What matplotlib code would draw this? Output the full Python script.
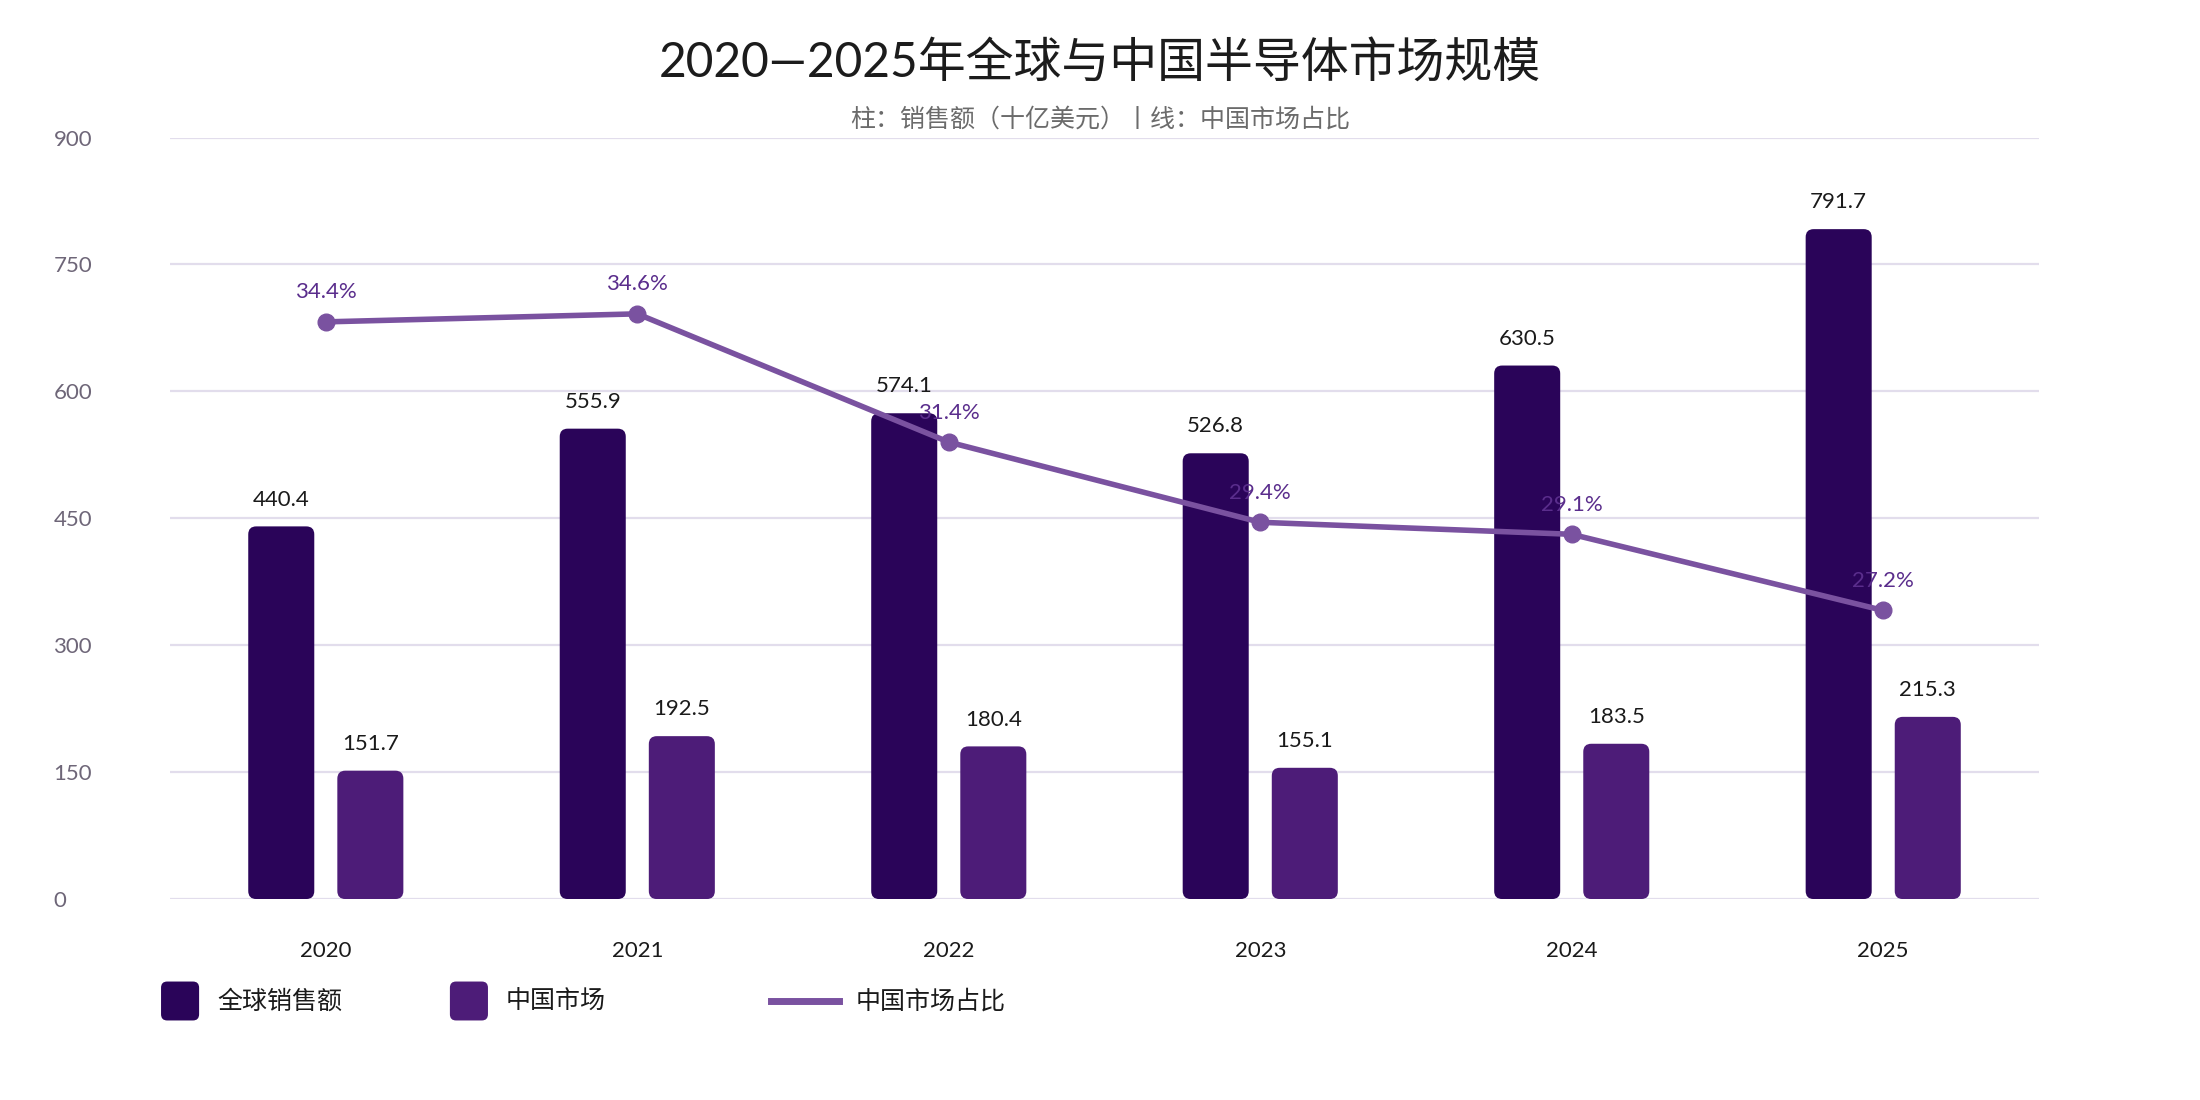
import numpy as np
import matplotlib
matplotlib.use('Agg')
import matplotlib.pyplot as plt
from matplotlib.patches import FancyBboxPatch
from matplotlib.lines import Line2D

plt.rcParams['font.family'] = ['Lato', 'Noto Sans CJK SC', 'DejaVu Sans']

years = ['2020', '2021', '2022', '2023', '2024', '2025']
global_sales = [440.4, 555.9, 574.1, 526.8, 630.5, 791.7]
china_sales = [151.7, 192.5, 180.4, 155.1, 183.5, 215.3]
china_share = [34.4, 34.6, 31.4, 29.4, 29.1, 27.2]
yticks = [0, 150, 300, 450, 600, 750, 900]
names = ['全球销售额', '中国市场', '中国市场占比']

DARK = '#2a0459'
MID = '#4d1c78'
LINE = '#7a52a0'
GRID = '#e2ddec'
TXT = '#1a1a1a'

fig = plt.figure(figsize=(22, 11), dpi=100)
ax = fig.add_axes([0.0773, 0.1827, 0.8495, 0.6923])
x = np.arange(len(years))
w, off = 0.212, 0.143
b1 = ax.bar(x - off, global_sales, w, color=DARK)
b2 = ax.bar(x + off, china_sales, w, color=MID)
ax.set_xlim(-0.5, 5.5)
ax.set_ylim(0, 900)
ax.set_yticks(yticks)
ax.set_xticks(x, years)
ax.yaxis.grid(True, color=GRID, lw=1.6)
ax.set_axisbelow(True)
ax.spines[:].set_visible(False)
ax.tick_params(axis='y', length=0, pad=84, labelsize=16, labelcolor='#6e6678')
ax.tick_params(axis='x', length=0, pad=30, labelsize=16, labelcolor=TXT)
for t in ax.get_yticklabels():
    t.set_ha('left')

# rounded bars: swap each rectangle for a rounded box of the same size
p0 = ax.transData.transform((0, 0))
p1 = ax.transData.transform((1, 1))
px_x, px_y = p1[0] - p0[0], p1[1] - p0[1]
rs = 8 / px_x
for bars, vals in ((b1, global_sales), (b2, china_sales)):
    for r, v in zip(bars, vals):
        ax.add_patch(FancyBboxPatch((r.get_x(), 0), r.get_width(), r.get_height(),
                                    boxstyle=f'round,pad=0,rounding_size={rs}',
                                    mutation_aspect=px_x / px_y,
                                    fc=r.get_facecolor(), ec='none'))
        r.set_visible(False)
        ax.annotate(f'{v:.1f}', (r.get_x() + r.get_width() / 2, v), xytext=(0, 15),
                    textcoords='offset points', ha='center', va='baseline',
                    fontsize=16, color=TXT)

ax2 = ax.twinx()
ax2.plot(x, china_share, color=LINE, lw=4, marker='o', ms=12)
ax2.set_ylim(20, 39)
ax2.axis('off')
for xi, v in zip(x, china_share):
    ax2.annotate(f'{v}%', (xi, v), xytext=(0, 17), textcoords='offset points',
                 ha='center', va='baseline', fontsize=16, color='#5a2d8c')

fig.text(0.5, 0.943, '2020—2025年全球与中国半导体市场规模', ha='center', va='center',
         fontsize=34.5, color='#1c1c1c')
fig.text(0.5, 0.892, '柱：销售额（十亿美元）丨线：中国市场占比', ha='center', va='center',
         fontsize=18, color='#6b6b6b')

# legend
ly = 0.09
for px, c in ((0.0732, DARK), (0.2045, MID)):
    fig.patches.append(FancyBboxPatch((px, ly - 0.0177), 0.0173, 0.0354,
                                      boxstyle='round,pad=0,rounding_size=0.0028',
                                      mutation_aspect=2, fc=c, ec='none',
                                      transform=fig.transFigure))
fig.lines.append(Line2D([0.3505, 0.3814], [ly, ly], color=LINE, lw=5,
                        transform=fig.transFigure))
for tx, s in zip((0.0986, 0.23, 0.389), names):
    fig.text(tx, ly, s, ha='left', va='center', fontsize=18, color=TXT)

fig.savefig('out.png', dpi=100, facecolor='white')
